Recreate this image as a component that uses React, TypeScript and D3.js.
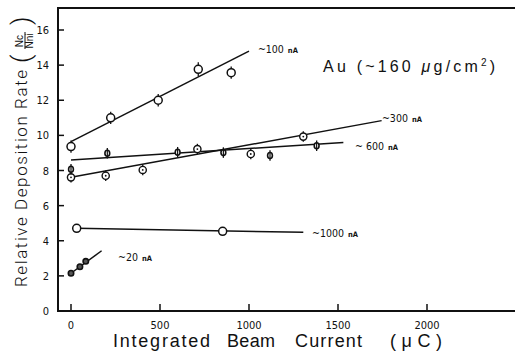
import React from "react";
import * as d3 from "d3";

const W = 515;
const H = 354;

const xTicks = [0, 500, 1000, 1500, 2000];
const yTicks = [0, 2, 4, 6, 8, 10, 12, 14, 16];

// ~100 nA (open circles with error bars)
const x100 = [0, 223, 490, 715, 900];
const y100 = [9.36, 11.0, 12.0, 13.76, 13.57];
const e100 = [0.35, 0.35, 0.35, 0.4, 0.35];
const fit100 = [[0, 9.64], [1000, 14.8]];

// ~300 nA (dotted circles with error bars)
const x300 = [0, 195, 403, 710, 1010, 1305];
const y300 = [7.61, 7.7, 8.03, 9.22, 8.94, 9.93];
const e300 = [0.3, 0.3, 0.3, 0.3, 0.3, 0.3];
const fit300 = [[0, 7.61], [1745, 10.84]];

// ~600 nA (small barred ovals)
const x600 = [0, 204, 599, 856, 1118, 1380];
const y600 = [8.07, 8.98, 9.04, 9.02, 8.85, 9.41];
const e600 = [0.3, 0.3, 0.3, 0.3, 0.3, 0.3];
const fit600 = [[0, 8.6], [1530, 9.6]];

// ~1000 nA (open circles)
const x1000 = [32, 852];
const y1000 = [4.71, 4.54];
const fit1000 = [[32, 4.71], [1305, 4.48]];

// ~20 nA (dark dots)
const x20 = [0, 50, 83];
const y20 = [2.15, 2.52, 2.83];
const fit20 = [[0, 2.15], [172, 3.43]];

const seriesLabels = [
  { num: "~100", unit: "nA", x: 1050, y: 14.7 },
  { num: "~300", unit: "nA", x: 1747, y: 10.76 },
  { num: "~ 600", unit: "nA", x: 1596, y: 9.17 },
  { num: "~1000", unit: "nA", x: 1354, y: 4.21 },
  { num: "~20", unit: "nA", x: 264, y: 2.85 },
];

const xWords = [
  { t: "Integrated", x0: 113, x1: 210 },
  { t: "Beam", x0: 227, x1: 275 },
  { t: "Current", x0: 295, x1: 362 },
  { t: "(\u03BCC)", x0: 390, x1: 442 },
];

const INK = "#111";
const NARROW = "'Liberation Sans Narrow', 'Arial Narrow', 'DejaVu Sans Condensed', sans-serif";
const SANS = "'Liberation Sans', Arial, sans-serif";
const LIGHT = "Roboto, 'Liberation Sans', sans-serif";

export default function App() {
  const x = d3.scaleLinear().domain([0, 2000]).range([71, 427]);
  const y = d3.scaleLinear().domain([0, 16]).range([311, 30]);
  const line = d3
    .line<number[]>()
    .x((d) => x(d[0]))
    .y((d) => y(d[1]));

  const left = 58;
  const top = 8;
  const bottom = y(0);

  const errBar = (cx: number, cy: number, e: number, key: string) => (
    <line
      key={key}
      x1={x(cx)}
      x2={x(cx)}
      y1={y(cy - e)}
      y2={y(cy + e)}
      stroke={INK}
      strokeWidth={1.3}
    />
  );

  return (
    <svg width={W} height={H} style={{ position: "absolute", left: 0, top: 0, background: "#fff" }}>
      <rect width={W} height={H} fill="#fff" />
      {/* frame */}
      <line x1={left} x2={W} y1={top} y2={top} stroke={INK} strokeWidth={2} />
      <line x1={left} x2={left} y1={top - 1} y2={bottom + 1} stroke={INK} strokeWidth={2} />
      <line x1={left - 1} x2={W} y1={bottom} y2={bottom} stroke={INK} strokeWidth={2} />

      {/* y ticks */}
      {yTicks.map((t) => (
        <g key={"yt" + t}>
          <line x1={left} x2={left + 6} y1={y(t)} y2={y(t)} stroke={INK} strokeWidth={1.5} />
          <text
            x={49}
            y={y(t) + 4}
            textAnchor="end"
            fontFamily={NARROW}
            fontSize={11}
            fill={INK}
          >
            {t}
          </text>
        </g>
      ))}
      {/* x ticks */}
      {xTicks.map((t) => (
        <g key={"xt" + t}>
          <line x1={x(t)} x2={x(t)} y1={bottom} y2={bottom - 7} stroke={INK} strokeWidth={1.5} />
          <text
            x={x(t)}
            y={329}
            textAnchor="middle"
            fontFamily={NARROW}
            fontSize={11}
            fill={INK}
          >
            {t}
          </text>
        </g>
      ))}

      {/* fit lines */}
      {[fit100, fit300, fit600, fit1000, fit20].map((f, i) => (
        <path key={"fit" + i} d={line(f) || ""} fill="none" stroke={INK} strokeWidth={1.5} />
      ))}

      {/* ~100 nA */}
      {x100.map((v, i) => (
        <g key={"p100" + i}>
          {errBar(v, y100[i], e100[i], "e")}
          <circle cx={x(v)} cy={y(y100[i])} r={4} fill="#fff" stroke={INK} strokeWidth={1.5} />
        </g>
      ))}
      {/* ~300 nA */}
      {x300.map((v, i) => (
        <g key={"p300" + i}>
          {errBar(v, y300[i], e300[i], "e")}
          <circle cx={x(v)} cy={y(y300[i])} r={3.6} fill="#fff" stroke={INK} strokeWidth={1.4} />
          <circle cx={x(v)} cy={y(y300[i])} r={0.9} fill={INK} />
        </g>
      ))}
      {/* ~600 nA */}
      {x600.map((v, i) => (
        <g key={"p600" + i}>
          {errBar(v, y600[i], e600[i], "e")}
          <ellipse cx={x(v)} cy={y(y600[i])} rx={2.4} ry={3} fill="#fff" stroke={INK} strokeWidth={1.6} />
          <line
            x1={x(v)}
            x2={x(v)}
            y1={y(y600[i]) - 3}
            y2={y(y600[i]) + 3}
            stroke={INK}
            strokeWidth={1.2}
          />
        </g>
      ))}
      {/* ~1000 nA */}
      {x1000.map((v, i) => (
        <circle key={"p1000" + i} cx={x(v)} cy={y(y1000[i])} r={4} fill="#fff" stroke={INK} strokeWidth={1.5} />
      ))}
      {/* ~20 nA */}
      {x20.map((v, i) => (
        <circle key={"p20" + i} cx={x(v)} cy={y(y20[i])} r={2.7} fill="#555" stroke={INK} strokeWidth={1.6} />
      ))}

      {/* series labels */}
      {seriesLabels.map((l) => (
        <text key={l.num} x={x(l.x)} y={y(l.y)} fontFamily={NARROW} fontSize={10.5} fill={INK}>
          {l.num}
          <tspan fontSize={7.5} fontWeight="bold" dx={4}>
            {l.unit}
          </tspan>
        </text>
      ))}

      {/* Au annotation */}
      <text
        x={x(1416)}
        y={y(13.61)}
        fontFamily={SANS}
        fontSize={16}
        fill={INK}
        textLength={172}
        lengthAdjust="spacing"
      >
        Au (~160 <tspan fontStyle="italic">{"\u03BC"}</tspan>g/cm
        <tspan fontSize={10} dy={-6}>
          2
        </tspan>
        <tspan dy={6}>)</tspan>
      </text>

      {/* y-axis title */}
      <g transform="translate(27,287) rotate(-90)">
        <text
          x={0}
          y={0}
          fontFamily={LIGHT}
          fontWeight={300}
          fontSize={17}
          fill={INK}
          textLength={217}
          lengthAdjust="spacing"
        >
          Relative Deposition Rate
        </text>
        <text x={224} y={3} fontFamily={LIGHT} fontWeight={300} fontSize={26} fill={INK}>
          (
        </text>
        <text x={246} y={-4} textAnchor="middle" fontFamily={SANS} fontSize={10} fill={INK}>
          Nc
        </text>
        <line x1={238} x2={255} y1={-2} y2={-2} stroke={INK} strokeWidth={1} />
        <text x={246} y={6} textAnchor="middle" fontFamily={SANS} fontSize={10} fill={INK}>
          Nni
        </text>
        <text x={262} y={3} fontFamily={LIGHT} fontWeight={300} fontSize={26} fill={INK}>
          )
        </text>
      </g>

      {/* x-axis title */}
      {xWords.map((w) => (
        <text
          key={w.t}
          x={w.x0}
          y={347}
          fontFamily={SANS}
          fontSize={18}
          fill={INK}
          textLength={w.x1 - w.x0}
          lengthAdjust="spacing"
        >
          {w.t}
        </text>
      ))}
    </svg>
  );
}
